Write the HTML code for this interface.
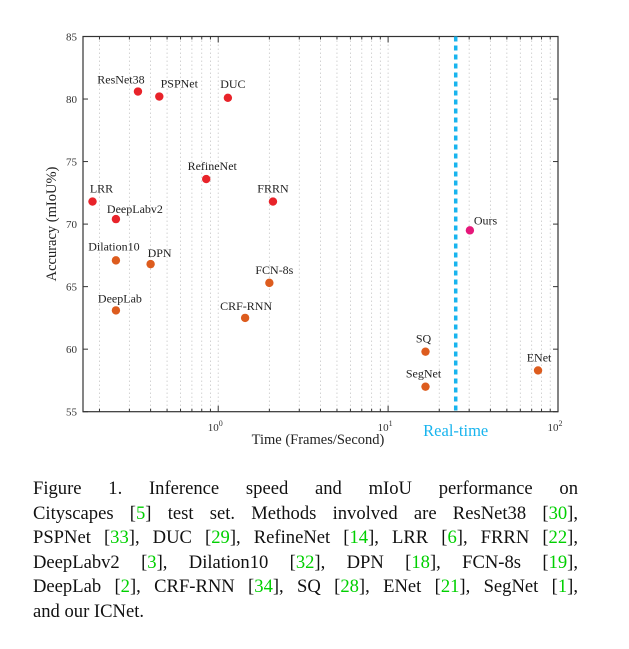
<!DOCTYPE html>
<html><head><meta charset="utf-8"><style>
body{margin:0;background:#fff;width:629px;height:649px;overflow:hidden;font-family:"Liberation Serif",serif}
#cap{position:absolute;left:33px;top:477px;width:545px;font-size:18.6px;line-height:24.6px;color:#111}
#cap div{text-align:justify;text-align-last:justify;white-space:nowrap}
#cap div.last{text-align-last:left}
.g{color:#00d000}
</style></head><body>
<svg id="chart" width="629" height="470" style="position:absolute;left:0;top:0" font-family="Liberation Serif, serif"></svg>
<div id="cap">
<div>Figure 1. Inference speed and mIoU performance on</div>
<div>Cityscapes [<span class="g">5</span>] test set. Methods involved are ResNet38 [<span class="g">30</span>],</div>
<div>PSPNet [<span class="g">33</span>], DUC [<span class="g">29</span>], RefineNet [<span class="g">14</span>], LRR [<span class="g">6</span>], FRRN [<span class="g">22</span>],</div>
<div>DeepLabv2 [<span class="g">3</span>], Dilation10 [<span class="g">32</span>], DPN [<span class="g">18</span>], FCN-8s [<span class="g">19</span>],</div>
<div>DeepLab [<span class="g">2</span>], CRF-RNN [<span class="g">34</span>], SQ [<span class="g">28</span>], ENet [<span class="g">21</span>], SegNet [<span class="g">1</span>],</div>
<div class="last">and our ICNet.</div>
</div>
<script>
const methods=["ResNet38","PSPNet","DUC","RefineNet","LRR","DeepLabv2","FRRN","Dilation10","DPN","DeepLab","CRF-RNN","FCN-8s","SQ","SegNet","Ours","ENet"];
const fps=[0.337,0.45,1.14,0.85,0.182,0.25,2.1,0.25,0.4,0.25,1.44,2.0,16.6,16.6,30.3,76.3];
const miou=[80.6,80.2,80.1,73.6,71.8,70.4,71.8,67.1,66.8,63.1,62.5,65.3,59.8,57.0,69.5,58.3];
const group=["red","red","red","red","red","red","red","o","o","o","o","o","o","o","ours","o"];
const yTicks=[55,60,65,70,75,80,85];
const xDecades=[0,1,2];
const realTime=25;
const labelOff=[[-17,-8],[20,-9],[5,-10],[6,-9],[9,-9],[19,-6],[0,-9],[-2,-10],[9,-7],[4,-8],[1,-8],[5,-9],[-2,-9],[-2,-9],[4,-6],[1,-9]];
const L=83,R=558,T=36.5,B=411.7,xMin=Math.log10(0.16),xMax=2;
const X=v=>L+(Math.log10(v)-xMin)/(xMax-xMin)*(R-L);
const Y=v=>B-(v-55)/30*(B-T);
const svg=document.getElementById('chart');const NS="http://www.w3.org/2000/svg";
function mk(t,a,p){const e=document.createElementNS(NS,t);for(const k in a)e.setAttribute(k,a[k]);(p||svg).appendChild(e);return e;}
for(let d=-1;d<=1;d++)for(let m=1;m<=9;m++){const v=m*Math.pow(10,d);if(v<0.16||v>=100)continue;const x=X(v);
const gl=mk('line',{x1:x,x2:x,y1:T,y2:B,stroke:'#c8c8c8','stroke-width':0.8,'stroke-dasharray':'1.5,2.5'});

const t1=mk('line',{x1:x,x2:x,y1:B,y2:B-(m==1?6:3),stroke:'#333'});
const t2=mk('line',{x1:x,x2:x,y1:T,y2:T+(m==1?6:3),stroke:'#333'});}
const frame=mk('rect',{x:L,y:T,width:R-L,height:B-T,fill:'none',stroke:'#333','stroke-width':1.2});

yTicks.forEach(v=>{const y=Y(v);
const a=mk('line',{x1:L,x2:L+5,y1:y,y2:y,stroke:'#333'});
const b=mk('line',{x1:R,x2:R-5,y1:y,y2:y,stroke:'#333'});
const t=mk('text',{x:L-6,y:y+4,'text-anchor':'end','font-size':11,fill:'#333'});t.textContent=v;
});
xDecades.forEach(d=>{const x=X(Math.pow(10,d));const t=mk('text',{x:x-3,y:431,'text-anchor':'middle','font-size':11,fill:'#333'});
t.textContent='10';const s=mk('tspan',{dy:-5,'font-size':8},t);s.textContent=d;
});
const rl=mk('line',{x1:X(realTime),x2:X(realTime),y1:T,y2:B,stroke:'#18b4ee','stroke-width':3.5,'stroke-dasharray':'5,4'});

const rt=mk('text',{x:X(realTime),y:436,'text-anchor':'middle','font-size':16.5,fill:'#18b4ee'});rt.textContent='Real-time';

const col={red:'#e8232a',o:'#dd5c1e',ours:'#e6177a'};
methods.forEach((n,i)=>{const x=X(fps[i]),y=Y(miou[i]);
const c=mk('circle',{cx:x,cy:y,r:4.2,fill:col[group[i]]});
const o=labelOff[i];const t=mk('text',{x:x+o[0],y:y+o[1],'text-anchor':n=='Ours'?'start':'middle','font-size':12,fill:'#222'});t.textContent=n;
});
const xt=mk('text',{x:318,y:444,'text-anchor':'middle','font-size':14.5,fill:'#222'});xt.textContent='Time (Frames/Second)';

const yt=mk('text',{x:0,y:0,'text-anchor':'middle','font-size':14.5,fill:'#222',transform:'translate(56,224) rotate(-90)'});yt.textContent='Accuracy (mIoU%)';

</script>
</body></html>
